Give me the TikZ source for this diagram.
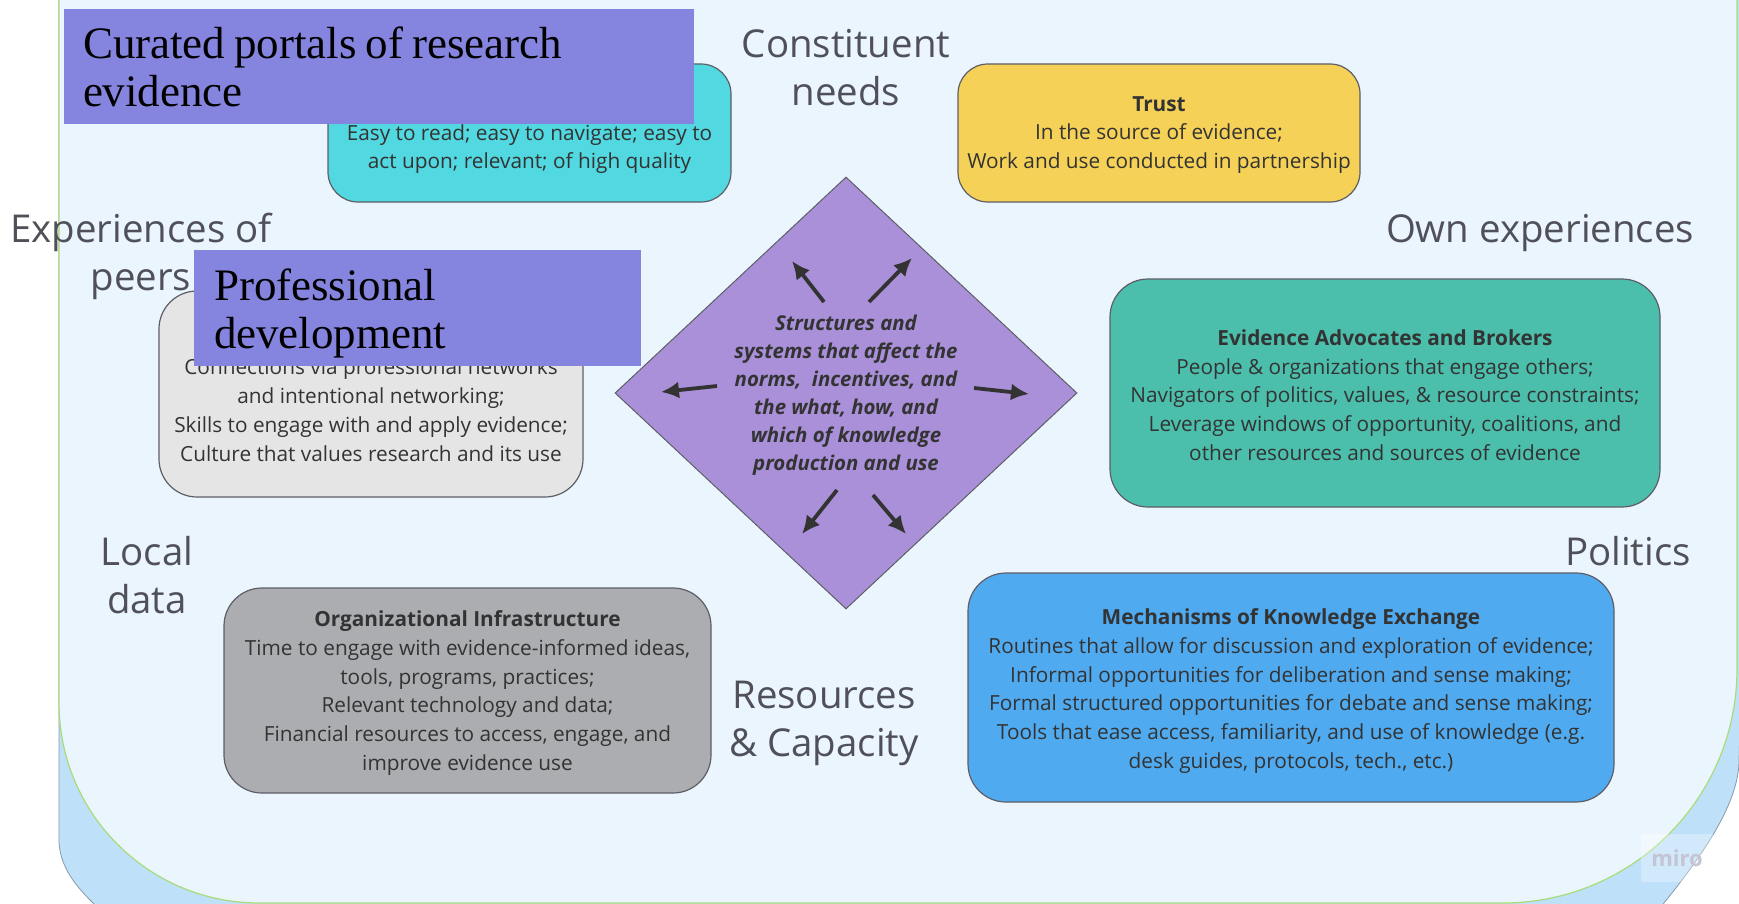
\documentclass[tikz,border=0pt]{standalone}
\usepackage{fontspec}
\setmainfont{Liberation Serif}
\newfontfamily\opensans{Open Sans}
\newfontfamily\patchfont{Liberation Serif}
\usetikzlibrary{shapes.geometric,arrows.meta}
\definecolor{paleblue}{HTML}{EBF5FE}
\definecolor{shadowblue}{HTML}{BEE0F8}
\definecolor{shadowedge}{HTML}{8A9AAA}
\definecolor{leafgreen}{HTML}{A8DC78}
\definecolor{portalcyan}{HTML}{52D8E0}
\definecolor{trustyellow}{HTML}{F5D257}
\definecolor{brokerteal}{HTML}{4BBFAC}
\definecolor{exchangeblue}{HTML}{50AAF0}
\definecolor{peermist}{HTML}{E5E5E6}
\definecolor{infraslate}{HTML}{ABADB0}
\definecolor{hublavender}{HTML}{A990D8}
\definecolor{patchviolet}{HTML}{8585E0}
\definecolor{cardedge}{HTML}{5E5E66}
\definecolor{labelgray}{HTML}{505058}
\definecolor{ink}{HTML}{333333}
\definecolor{mirogray}{HTML}{C4C4D4}

\begin{document}
\begin{tikzpicture}[x=0.5pt, y=-0.5pt,
    card/.style={draw=cardedge, line width=0.6pt, rounded corners=19pt, inner sep=0pt},
    cardtext/.style={align=center, text=ink, font=\opensans\fontsize{10.4}{14.4}\selectfont},
    theme/.style={align=center, text=labelgray, font=\opensans\fontsize{19.2}{24}\selectfont},
    patch/.style={fill=patchviolet, inner ysep=0pt, align=left, font=\patchfont\fontsize{22.5}{24}\selectfont,
        execute at begin node={\spaceskip=0.2em\relax}},
    push/.style={draw=ink, line width=1.9pt, -{Latex[length=9pt,width=8.5pt]}}]
    \useasboundingbox (0,0) rectangle (1739,904);
    % backdrop
    \filldraw[fill=shadowblue, draw=shadowedge, line width=0.4pt] (59,-20) -- (59,840) .. controls (59,872) and (85,897) .. (112,920) -- (1650,920) .. controls (1700,860) and (1739,805) .. (1739,760) -- (1760,-20) -- cycle;
    \filldraw[fill=paleblue, draw=leafgreen, line width=0.6pt] (59,-20) -- (59,703) arc[start angle=180, end angle=90, radius=200] -- (1503,903) arc[start angle=90, end angle=0, radius=234] -- (1737,-20) -- cycle;

    \node[card, fill=portalcyan, rounded corners=15pt, minimum width=201.5pt, minimum height=69pt] (portalbox) at (529.5,133) {};
    \node[card, fill=trustyellow, rounded corners=15pt, minimum width=201pt, minimum height=69pt] (trustbox) at (1159,133) {};
    \node[card, fill=peermist, minimum width=212pt, minimum height=103pt] (peerbox) at (371,394) {};
    \node[card, fill=brokerteal, minimum width=275pt, minimum height=114pt] (brokerbox) at (1385,393) {};
    \node[card, fill=exchangeblue, minimum width=323pt, minimum height=114.5pt] (exchangebox) at (1291,687.5) {};
    \node[card, fill=infraslate, minimum width=243.5pt, minimum height=102.5pt] (infrabox) at (467.5,690.5) {};

    \node[cardtext] (portaltext) at (529.5,149) {Easy to read; easy to navigate; easy to\\act upon; relevant; of high quality};
    \node[cardtext] (trusttext) at (1159,135) {\textbf{Trust}\\In the source of evidence;\\Work and use conducted in partnership};
    \node[cardtext] (peertext) at (371,410) {Connections via professional networks\\and intentional networking;\\Skills to engage with and apply evidence;\\Culture that values research and its use};
    \node[cardtext] (brokertext) at (1385,395) {\textbf{Evidence Advocates and Brokers}\\People \& organizations that engage others;\\Navigators of politics, values, \& resource constraints;\\Leverage windows of opportunity, coalitions, and\\other resources and sources of evidence};
    \node[cardtext] (exchangetext) at (1291,691) {\textbf{Mechanisms of Knowledge Exchange}\\Routines that allow for discussion and exploration of evidence;\\Informal opportunities for deliberation and sense making;\\Formal structured opportunities for debate and sense making;\\Tools that ease access, familiarity, and use of knowledge (e.g.\\desk guides, protocols, tech., etc.)};
    \node[cardtext] (infratext) at (467.5,693) {\textbf{Organizational Infrastructure}\\Time to engage with evidence-informed ideas,\\tools, programs, practices;\\Relevant technology and data;\\Financial resources to access, engage, and\\improve evidence use};

    % centre diamond
    \node[diamond, draw=cardedge, line width=0.5pt, fill=hublavender, minimum width=231pt, minimum height=216pt, inner sep=0pt] (hub) at (846,393) {};
    \node[align=center, text=ink, font=\opensans\bfseries\itshape\fontsize{10.2}{14}\selectfont] (hubtext) at (846,395) {Structures and\\systems that affect the\\norms,\ \ incentives, and\\the what, how, and\\which of knowledge\\production and use};
    \coordinate (nwfrom) at (824,302);  \coordinate (nwto) at (792,261);
    \coordinate (nefrom) at (869,302);  \coordinate (neto) at (912,258);
    \coordinate (wfrom) at (717,386);   \coordinate (wto) at (661,392);
    \coordinate (efrom) at (974,388);   \coordinate (eto) at (1029,394);
    \coordinate (swfrom) at (837,490);  \coordinate (swto) at (802,534);
    \coordinate (sefrom) at (873,495);  \coordinate (seto) at (906,534);
    \draw[push] (nwfrom) -- (nwto);
    \draw[push] (nefrom) -- (neto);
    \draw[push] (wfrom) -- (wto);
    \draw[push] (efrom) -- (eto);
    \draw[push] (swfrom) -- (swto);
    \draw[push] (sefrom) -- (seto);

    % outer themes
    \node[theme] (needs) at (846,68) {Constituent\\needs};
    \node[theme] (peers) at (141,256) {Experiences of\\peers};
    \node[theme] (own) at (1540,233) {Own experiences};
    \node[theme] (localdata) at (147,575) {Local\\data};
    \node[theme] (politics) at (1628,551) {Politics};
    \node[theme] (capacity) at (824,723) {Resources\\\& Capacity};

    \node[patch, inner xsep=9.5pt, text width=296pt, minimum height=57.5pt] (portals) at (379,66.5) {Curated portals of research\\evidence};
    \node[patch, inner xsep=10pt, text width=203.5pt, minimum height=58pt] (profdev) at (417.5,308) {\rule{0pt}{21pt}Professional\\development};

    \node[fill=white, fill opacity=0.3, text opacity=1, text=mirogray, font=\opensans\bfseries\fontsize{11}{12}\selectfont, minimum width=36pt, minimum height=24pt] (miro) at (1677,858) {miro};
\end{tikzpicture}
\end{document}
